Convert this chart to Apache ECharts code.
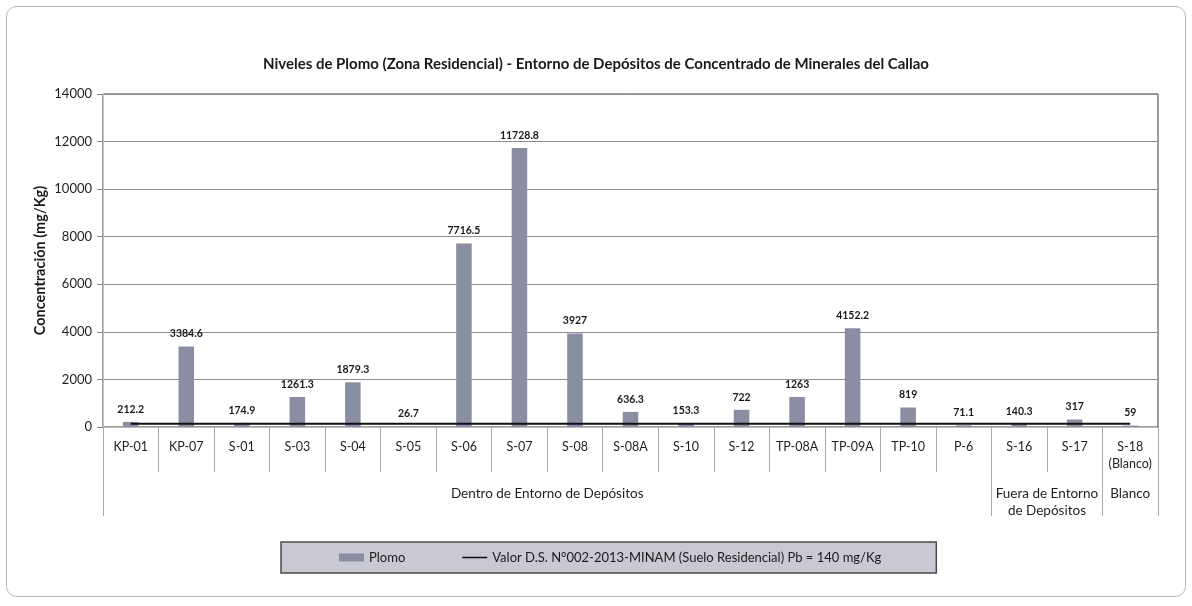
<!DOCTYPE html>
<html>
<head>
<meta charset="utf-8">
<script src="https://cdn.jsdelivr.net/npm/echarts@6/dist/echarts.min.js"></script>
<style>
html,body{margin:0;padding:0;background:#fff;}
#chart{width:1192px;height:606px;}
</style>
</head>
<body>
<div id="chart"></div>
<script>
// ---- data ----
const categories = ['KP-01','KP-07','S-01','S-03','S-04','S-05','S-06','S-07','S-08','S-08A','S-10','S-12','TP-08A','TP-09A','TP-10','P-6','S-16','S-17','S-18\n(Blanco)'];
const plomo = [212.2,3384.6,174.9,1261.3,1879.3,26.7,7716.5,11728.8,3927,636.3,153.3,722,1263,4152.2,819,71.1,140.3,317,59];
const limite = [140,140,140,140,140,140,140,140,140,140,140,140,140,140,140,140,140,140,140];
const groupNames = ['Dentro de Entorno de Depósitos','Fuera de Entorno\nde Depósitos','Blanco'];
const groupBounds = [0,16,18,19];
const yTicks = [0,2000,4000,6000,8000,10000,12000,14000];
const seriesNames = ['Plomo','Valor D.S. N°002-2013-MINAM (Suelo Residencial) Pb = 140 mg/Kg'];
const titleText = 'Niveles de Plomo (Zona Residencial) - Entorno de Depósitos de Concentrado de Minerales del Callao';
const yName = 'Concentración (mg/Kg)';

// layout: group label centres (category units)
const groupLabelPos = [8,17,18.5];

const FONT = 'Lato';
const lineIcon = 'path://M0,3.2L28,3.2L28,4.9L0,4.9Z M0,0L0.01,0L0.01,0.01Z M0,8L0.01,8L0.01,7.99Z';
const chart = echarts.init(document.getElementById('chart'), null, {renderer:'canvas'});
chart.setOption({
  backgroundColor:'#ffffff',
  animation:false,
  textStyle:{fontFamily:FONT},
  graphic:[{
    type:'rect', z:-10,
    shape:{x:6.5,y:6.5,width:1179,height:590,r:10},
    style:{fill:'none',stroke:'#b8b8b8',lineWidth:1}
  }],
  title:{
    text:titleText, left:'center', top:52,
    textStyle:{fontFamily:FONT,fontSize:15,fontWeight:'bold',color:'#1a1a1a'}
  },
  legend:{
    left:281, top:542,
    padding:[9,55,9,58],
    itemGap:57,
    itemWidth:25, itemHeight:8,
    backgroundColor:'#c9c9d3',
    borderColor:'#4a4a4a', borderWidth:1.5,
    textStyle:{fontFamily:FONT,fontSize:13,color:'#1a1a1a'},
    data:[{name:seriesNames[0],icon:'rect'},{name:seriesNames[1],icon:lineIcon}]
  },
  grid:{left:103,right:34,top:94,bottom:179,show:true,borderColor:'#3a3a3a',borderWidth:1,backgroundColor:'transparent'},
  xAxis:[{
    type:'category', data:categories, position:'bottom',
    axisLine:{show:true,lineStyle:{color:'#bdbdbd'}},
    axisTick:{show:true,alignWithLabel:false,length:45,lineStyle:{color:'#a8a8a8'}},
    axisLabel:{margin:11,fontFamily:FONT,fontSize:12.5,color:'#1f1f1f',interval:0,lineHeight:17}
  },{
    type:'value', min:0, max:19, position:'bottom', gridIndex:0,
    axisLine:{show:false},
    splitLine:{show:false},
    axisTick:{show:true,customValues:groupBounds,length:89,lineStyle:{color:'#a8a8a8'}},
    axisLabel:{show:true,customValues:groupLabelPos,margin:58,fontFamily:FONT,fontSize:13.5,color:'#1f1f1f',lineHeight:17,
      formatter:function(v){ const i = groupLabelPos.indexOf(v); return i>=0 ? groupNames[i] : ''; }}
  }],
  yAxis:{
    type:'value', min:yTicks[0], max:yTicks[yTicks.length-1], interval:2000,
    name:yName, nameLocation:'middle', nameGap:55, nameMoveOverlap:false,
    nameTextStyle:{fontFamily:FONT,fontSize:14.5,fontWeight:'bold',color:'#1a1a1a'},
    axisLine:{show:true,lineStyle:{color:'#c4c4c4'}},
    axisTick:{show:true,length:6,lineStyle:{color:'#8a8a8a'}},
    axisLabel:{margin:11,fontFamily:FONT,fontSize:13,color:'#1f1f1f',formatter:function(v){return String(v);}},
    splitLine:{show:true,lineStyle:{color:'#8e8e8e',width:1}}
  },
  series:[{
    name:seriesNames[0], type:'bar', data:plomo, xAxisIndex:0,
    barWidth:'28%',
    itemStyle:{color:'#8b8da3'},
    label:{show:true,position:'top',distance:7,fontFamily:FONT,fontSize:10.5,fontWeight:'bold',color:'#1a1a1a'},
    z:2
  },{
    name:seriesNames[1], type:'line', data:limite, xAxisIndex:0,
    symbol:'none', lineStyle:{color:'#111',width:2},
    itemStyle:{color:'#111'},
    z:3
  }]
});
</script>
</body>
</html>
